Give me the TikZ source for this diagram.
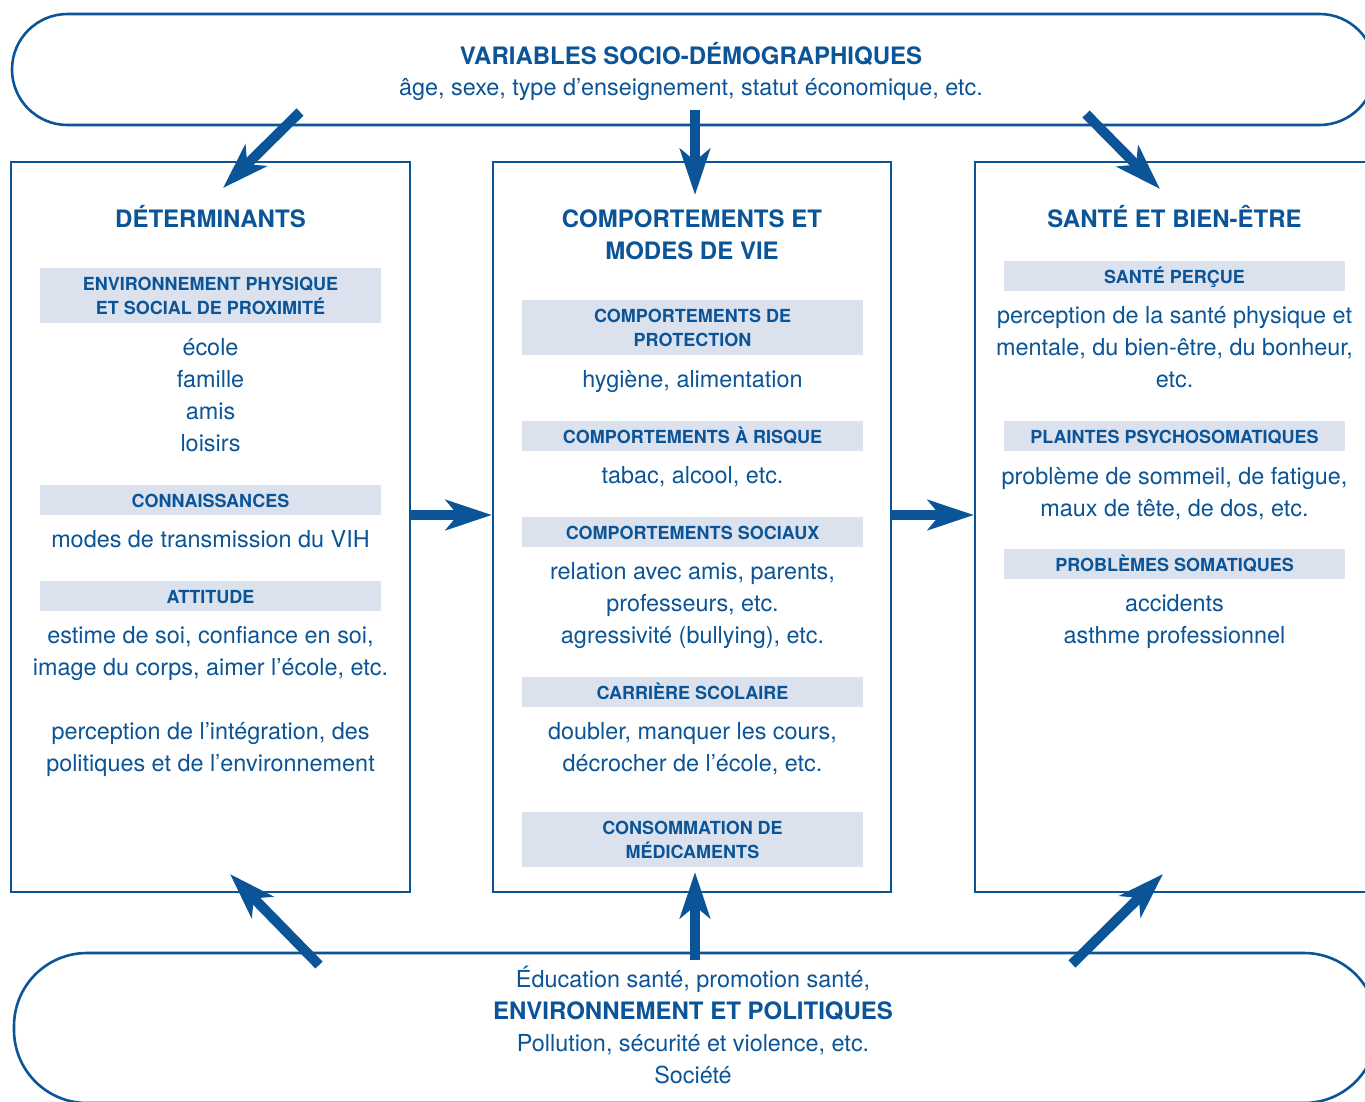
\documentclass[tikz,border=0pt]{standalone}
\usepackage{fontspec}
\setmainfont{TeX Gyre Heros}
\usetikzlibrary{arrows.meta}
\definecolor{ink}{HTML}{0A5497}
\definecolor{bandfill}{HTML}{DCE1EE}
\begin{document}
\begin{tikzpicture}[x=1pt,y=-1pt,
  box/.style={draw=ink, line width=2.2pt, rectangle, inner sep=0pt},
  pill/.style={draw=ink, line width=2.6pt, rectangle, rounded corners=#1, inner sep=0pt},
  band/.style={fill=bandfill, rectangle, inner sep=0pt, minimum width=341pt, minimum height=#1},
  band/.default=30pt,
  body/.style={text=ink, font=\fontsize{23.4}{32}\selectfont, anchor=base, inner sep=0pt},
  ttl/.style={text=ink, font=\bfseries\fontsize{24}{32}\selectfont, anchor=base, inner sep=0pt},
  bt/.style={text=ink, font=\bfseries\fontsize{18}{24}\selectfont, anchor=base, inner sep=0pt},
  arr/.style={draw=ink, line width=10pt, -{Stealth[length=46pt,width=30pt,inset=12pt]}}]
\useasboundingbox (0,0) rectangle (1365,1101);
\fill[white] (0,0) rectangle (1365,1101);
\clip (0,0) rectangle (1365,1101);

% frames
\node[pill=55.5pt, minimum width=1363pt, minimum height=111pt] (top) at (693.5,69.5) {};
\node[pill=73pt, minimum width=1363pt, minimum height=150pt] (bot) at (695.5,1028) {};
\node[box, minimum width=399pt, minimum height=730pt] (det) at (210.5,527) {};
\node[box, minimum width=398pt, minimum height=730pt] (cmp) at (692,527) {};
\node[box, minimum width=425pt, minimum height=730pt] (san) at (1187.5,527) {};

% bands
\node[band=55pt] (b11) at (210.5,295.5) {};
\node[band] (b12) at (210.5,500) {};
\node[band] (b13) at (210.5,596) {};
\node[band=55pt] (b21) at (692.5,327.5) {};
\node[band] (b22) at (692.5,436) {};
\node[band] (b23) at (692.5,532) {};
\node[band] (b24) at (692.5,692) {};
\node[band=55pt] (b25) at (692.5,839.5) {};
\node[band] (b31) at (1174.5,276) {};
\node[band] (b32) at (1174.5,436) {};
\node[band] (b33) at (1174.5,564) {};

% top pill text
\node[ttl] (t1) at (691,64) {VARIABLES SOCIO-DÉMOGRAPHIQUES};
\node[body] (t2) at (691,95) {âge, sexe, type d’enseignement, statut économique, etc.};

% left box
\node[ttl] (l0) at (210.5,227) {DÉTERMINANTS};
\node[bt] (l1a) at (210.5,290.5) {ENVIRONNEMENT PHYSIQUE};
\node[bt] (l1b) at (210.5,314) {ET SOCIAL DE PROXIMITÉ};
\node[body] (l2) at (210.5,355.5) {école};
\node[body] (l3) at (210.5,387.5) {famille};
\node[body] (l4) at (210.5,419.5) {amis};
\node[body] (l5) at (210.5,451.5) {loisirs};
\node[bt] (l6) at (210.5,507) {CONNAISSANCES};
\node[body] (l7) at (210.5,547) {modes de transmission du VIH};
\node[bt] (l8) at (210.5,603) {ATTITUDE};
\node[body] (l9) at (210.5,643) {estime de soi, confiance en soi,};
\node[body] (l10) at (210.5,675) {image du corps, aimer l’école, etc.};
\node[body] (l11) at (210.5,739) {perception de l’intégration, des};
\node[body] (l12) at (210.5,771) {politiques et de l’environnement};

% middle box
\node[ttl] (m0a) at (692,227.5) {COMPORTEMENTS ET};
\node[ttl] (m0b) at (692,259.5) {MODES DE VIE};
\node[bt] (m1a) at (692.5,322.5) {COMPORTEMENTS DE};
\node[bt] (m1b) at (692.5,346.5) {PROTECTION};
\node[body] (m2) at (692.5,387) {hygiène, alimentation};
\node[bt] (m3) at (692.5,443) {COMPORTEMENTS À RISQUE};
\node[body] (m4) at (692.5,483) {tabac, alcool, etc.};
\node[bt] (m5) at (692.5,539) {COMPORTEMENTS SOCIAUX};
\node[body] (m6) at (692.5,579.5) {relation avec amis, parents,};
\node[body] (m7) at (692.5,611.5) {professeurs, etc.};
\node[body] (m8) at (692.5,643.5) {agressivité (bullying), etc.};
\node[bt] (m9) at (692.5,699) {CARRIÈRE SCOLAIRE};
\node[body] (m10) at (692.5,739.5) {doubler, manquer les cours,};
\node[body] (m11) at (692.5,771.5) {décrocher de l’école, etc.};
\node[bt] (m12a) at (692.5,834.5) {CONSOMMATION DE};
\node[bt] (m12b) at (692.5,858.5) {MÉDICAMENTS};

% right box
\node[ttl] (r0) at (1174.5,227) {SANTÉ ET BIEN-ÊTRE};
\node[bt] (r1) at (1174.5,283) {SANTÉ PERÇUE};
\node[body] (r2) at (1174.5,323.5) {perception de la santé physique et};
\node[body] (r3) at (1174.5,355.5) {mentale, du bien-être, du bonheur,};
\node[body] (r4) at (1174.5,387.5) {etc.};
\node[bt] (r5) at (1174.5,443) {PLAINTES PSYCHOSOMATIQUES};
\node[body] (r6) at (1174.5,484) {problème de sommeil, de fatigue,};
\node[body] (r7) at (1174.5,516) {maux de tête, de dos, etc.};
\node[bt] (r8) at (1174.5,571) {PROBLÈMES SOMATIQUES};
\node[body] (r9) at (1174.5,611.5) {accidents};
\node[body] (r10) at (1174.5,643.5) {asthme professionnel};

% bottom pill text
\node[body] (s1) at (693,987) {Éducation santé, promotion santé,};
\node[ttl] (s2) at (693,1019) {ENVIRONNEMENT ET POLITIQUES};
\node[body] (s3) at (693,1051) {Pollution, sécurité et violence, etc.};
\node[body] (s4) at (693,1083) {Société};

% arrow ends
\coordinate (a1s) at (300,112);  \coordinate (a1e) at (223,188);
\coordinate (a2s) at (695,110);  \coordinate (a2e) at (695,195);
\coordinate (a3s) at (1086,114); \coordinate (a3e) at (1160,189);
\coordinate (a4s) at (319,965);  \coordinate (a4e) at (230,874);
\coordinate (a5s) at (695,960);  \coordinate (a5e) at (695,872);
\coordinate (a6s) at (1072,964); \coordinate (a6e) at (1163,874);
\coordinate (h1s) at (det.east |- 0,515); \coordinate (h1e) at (cmp.west |- 0,515);
\coordinate (h2s) at (cmp.east |- 0,515); \coordinate (h2e) at (san.west |- 0,515);

\draw[arr] (a1s) -- (a1e);
\draw[arr] (a2s) -- (a2e);
\draw[arr] (a3s) -- (a3e);
\draw[arr] (a4s) -- (a4e);
\draw[arr] (a5s) -- (a5e);
\draw[arr] (a6s) -- (a6e);
\draw[arr] (h1s) -- (h1e);
\draw[arr] (h2s) -- (h2e);
\end{tikzpicture}
\end{document}
